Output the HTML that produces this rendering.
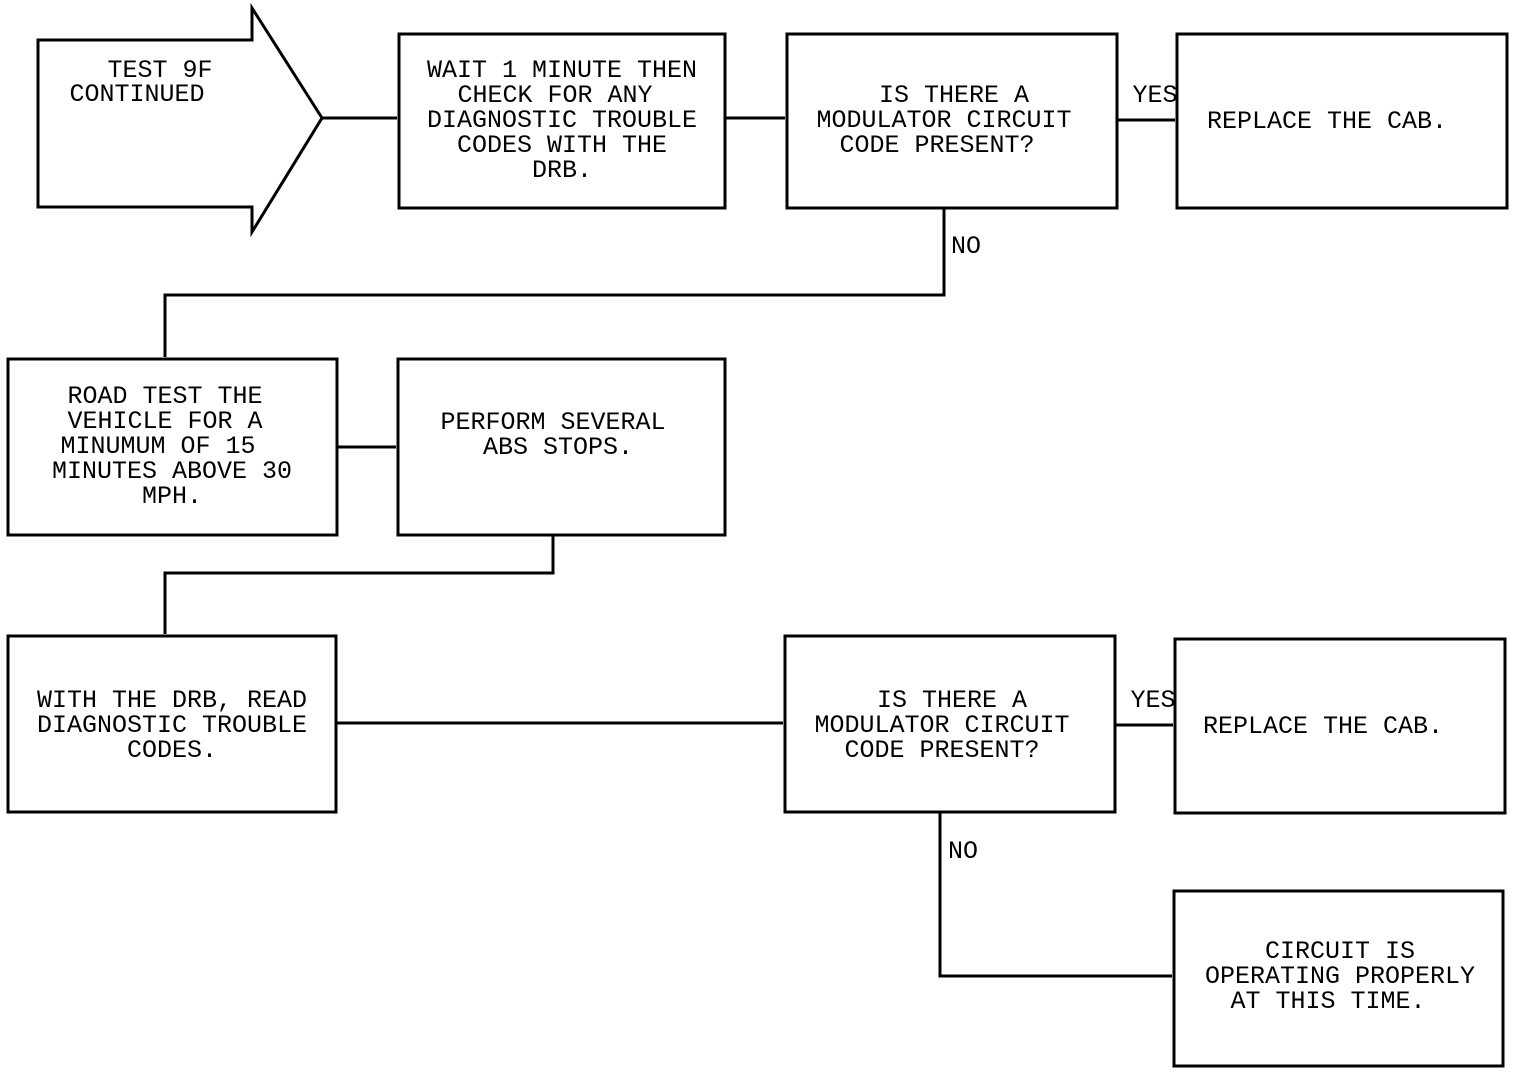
<!DOCTYPE html>
<html><head><meta charset="utf-8"><style>
html,body{margin:0;padding:0;background:#fff;}
svg{display:block}
text{font-family:"Liberation Mono",monospace;font-size:25px;fill:#000;text-anchor:middle;}
</style></head><body>
<svg width="1520" height="1074" viewBox="0 0 1520 1074" xmlns="http://www.w3.org/2000/svg">
<g fill="none" stroke="#000" stroke-width="3">
<polygon points="38,40 252,40 252,8 322,118 252,232 252,207 38,207"/>
<rect x="399" y="34" width="326" height="174"/>
<rect x="787" y="34" width="330" height="174"/>
<rect x="1177" y="34" width="330" height="174"/>
<rect x="8" y="359" width="329" height="176"/>
<rect x="398" y="359" width="327" height="176"/>
<rect x="8" y="636" width="328" height="176"/>
<rect x="785" y="636" width="330" height="176"/>
<rect x="1175" y="639" width="330" height="174"/>
<rect x="1174" y="891" width="329" height="175"/>
<polyline points="322,118 397,118"/>
<polyline points="725,118 785,118"/>
<polyline points="1117,120 1175,120"/>
<polyline points="944,208 944,295 165,295 165,357"/>
<polyline points="337,447 396,447"/>
<polyline points="553,535 553,573 165,573 165,634"/>
<polyline points="336,723 783,723"/>
<polyline points="1115,725 1173,725"/>
<polyline points="940,812 940,976 1172,976"/>
</g>
<text x="160" y="77">TEST 9F</text>
<text x="137" y="101">CONTINUED</text>
<text x="562" y="77">WAIT 1 MINUTE THEN</text>
<text x="555" y="102">CHECK FOR ANY</text>
<text x="562" y="127">DIAGNOSTIC TROUBLE</text>
<text x="562" y="152">CODES WITH THE</text>
<text x="562" y="177">DRB.</text>
<text x="954" y="102">IS THERE A</text>
<text x="944" y="127">MODULATOR CIRCUIT</text>
<text x="937" y="152">CODE PRESENT?</text>
<text x="1155" y="102">YES</text>
<text x="1327" y="128">REPLACE THE CAB.</text>
<text x="966" y="253">NO</text>
<text x="165" y="403">ROAD TEST THE</text>
<text x="165" y="428">VEHICLE FOR A</text>
<text x="158" y="453">MINUMUM OF 15</text>
<text x="172" y="478">MINUTES ABOVE 30</text>
<text x="172" y="503">MPH.</text>
<text x="553" y="429">PERFORM SEVERAL</text>
<text x="558" y="454">ABS STOPS.</text>
<text x="172" y="707">WITH THE DRB, READ</text>
<text x="172" y="732">DIAGNOSTIC TROUBLE</text>
<text x="172" y="757">CODES.</text>
<text x="952" y="707">IS THERE A</text>
<text x="942" y="732">MODULATOR CIRCUIT</text>
<text x="942" y="757">CODE PRESENT?</text>
<text x="1153" y="707">YES</text>
<text x="1323" y="733">REPLACE THE CAB.</text>
<text x="963" y="858">NO</text>
<text x="1340" y="958">CIRCUIT IS</text>
<text x="1340" y="983">OPERATING PROPERLY</text>
<text x="1328" y="1008">AT THIS TIME.</text>
</svg>
</body></html>
